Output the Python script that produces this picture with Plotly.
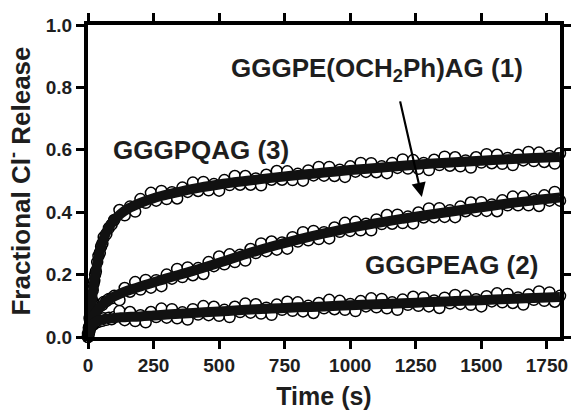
import plotly.graph_objects as go

# ---- data ----
t_data = [0, 3, 6, 9, 12, 15, 18, 21, 24, 27, 30, 35, 40, 45, 50, 55, 60, 70, 80, 90, 100,
          120, 140, 160, 180, 200, 220, 240, 260, 280, 300, 320, 340, 360, 380, 400, 420, 440,
          460, 480, 500, 520, 540, 560, 580, 600, 620, 640, 660, 680, 700, 720, 740, 760, 780,
          800, 820, 840, 860, 880, 900, 920, 940, 960, 980, 1000, 1020, 1040, 1060, 1080, 1100,
          1120, 1140, 1160, 1180, 1200, 1220, 1240, 1260, 1280, 1300, 1320, 1340, 1360, 1380,
          1400, 1420, 1440, 1460, 1480, 1500, 1520, 1540, 1560, 1580, 1600, 1620, 1640, 1660,
          1680, 1700, 1720, 1740, 1760, 1780, 1800]

# GGGPQAG (3)
y_pqag = [0.00, 0.03, 0.06, 0.08, 0.11, 0.12, 0.15, 0.17, 0.18, 0.20, 0.21, 0.24, 0.26, 0.27,
          0.29, 0.30, 0.32, 0.33, 0.35, 0.36, 0.375,
          0.407, 0.390, 0.418, 0.402, 0.442, 0.430, 0.462, 0.437, 0.468, 0.442, 0.464, 0.444,
          0.479, 0.465, 0.495, 0.468, 0.497, 0.470, 0.490, 0.469, 0.503, 0.487, 0.516, 0.488,
          0.516, 0.488, 0.508, 0.486, 0.520, 0.504, 0.532, 0.504, 0.531, 0.503, 0.523, 0.501,
          0.534, 0.518, 0.545, 0.517, 0.545, 0.516, 0.536, 0.513, 0.547, 0.530, 0.558, 0.529,
          0.557, 0.528, 0.547, 0.525, 0.558, 0.542, 0.569, 0.540, 0.567, 0.539, 0.558, 0.535,
          0.568, 0.551, 0.578, 0.549, 0.576, 0.547, 0.566, 0.543, 0.576, 0.559, 0.586, 0.557,
          0.584, 0.555, 0.574, 0.551, 0.584, 0.566, 0.593, 0.564, 0.591, 0.561, 0.580, 0.556,
          0.589]

# GGGPE(OCH2Ph)AG (1)
y_bn = [0.01, 0.02, 0.035, 0.045, 0.05, 0.06, 0.065, 0.07, 0.075, 0.08, 0.085, 0.09, 0.095,
        0.098, 0.105, 0.103, 0.112, 0.115, 0.122, 0.124, 0.132,
        0.118, 0.157, 0.145, 0.176, 0.152, 0.183, 0.158, 0.182, 0.163, 0.200, 0.187, 0.218,
        0.192, 0.223, 0.198, 0.221, 0.202, 0.240, 0.227, 0.258, 0.233, 0.265, 0.240, 0.264,
        0.245, 0.282, 0.269, 0.300, 0.275, 0.306, 0.280, 0.303, 0.283, 0.320, 0.306, 0.336,
        0.310, 0.340, 0.314, 0.336, 0.316, 0.351, 0.337, 0.366, 0.340, 0.369, 0.342, 0.363,
        0.342, 0.377, 0.362, 0.391, 0.363, 0.392, 0.365, 0.386, 0.364, 0.399, 0.383, 0.412,
        0.384, 0.413, 0.385, 0.406, 0.384, 0.418, 0.403, 0.431, 0.404, 0.432, 0.404, 0.425,
        0.403, 0.438, 0.422, 0.450, 0.422, 0.450, 0.422, 0.442, 0.420, 0.454, 0.437, 0.465,
        0.437]

# GGGPEAG (2)
y_peag = [0.00, 0.01, 0.02, 0.03, 0.035, 0.04, 0.045, 0.04, 0.05, 0.045, 0.052, 0.048, 0.055,
          0.05, 0.058, 0.052, 0.06, 0.055, 0.062, 0.057, 0.064,
          0.083, 0.054, 0.080, 0.051, 0.070, 0.047, 0.080, 0.064, 0.091, 0.062, 0.089, 0.060,
          0.079, 0.056, 0.089, 0.072, 0.099, 0.070, 0.097, 0.068, 0.087, 0.064, 0.097, 0.080,
          0.107, 0.078, 0.105, 0.075, 0.094, 0.071, 0.104, 0.087, 0.113, 0.084, 0.111, 0.082,
          0.100, 0.077, 0.109, 0.092, 0.119, 0.089, 0.116, 0.087, 0.106, 0.083, 0.115, 0.098,
          0.124, 0.095, 0.122, 0.092, 0.111, 0.087, 0.120, 0.103, 0.129, 0.100, 0.127, 0.098,
          0.117, 0.093, 0.126, 0.108, 0.135, 0.106, 0.132, 0.103, 0.121, 0.098, 0.131, 0.114,
          0.140, 0.111, 0.138, 0.109, 0.127, 0.104, 0.136, 0.119, 0.146, 0.116, 0.143, 0.113,
          0.132]

# fitted curves
t_fit = [0, 5, 10, 15, 20, 25, 30, 40, 50, 60, 75, 100, 125, 150, 200, 250, 300, 400, 500,
         600, 700, 800, 900, 1000, 1100, 1200, 1300, 1400, 1500, 1600, 1700, 1800]
fit_pqag = [0, 0.05, 0.085, 0.12, 0.155, 0.185, 0.21, 0.255, 0.29, 0.315, 0.345, 0.375, 0.395,
            0.41, 0.43, 0.445, 0.456, 0.475, 0.489, 0.5, 0.51, 0.519, 0.527, 0.535, 0.542,
            0.549, 0.555, 0.56, 0.565, 0.57, 0.574, 0.577]
fit_bn = [0.01, 0.025, 0.045, 0.058, 0.066, 0.073, 0.08, 0.09, 0.1, 0.108, 0.117, 0.13, 0.14,
          0.148, 0.162, 0.175, 0.188, 0.212, 0.238, 0.265, 0.29, 0.312, 0.332, 0.35, 0.365,
          0.379, 0.392, 0.404, 0.416, 0.428, 0.438, 0.447]
fit_peag = [0, 0.015, 0.028, 0.036, 0.042, 0.046, 0.049, 0.053, 0.055, 0.057, 0.059, 0.061,
            0.063, 0.064, 0.066, 0.069, 0.072, 0.077, 0.082, 0.087, 0.091, 0.095, 0.098, 0.102,
            0.105, 0.108, 0.112, 0.115, 0.118, 0.122, 0.125, 0.128]

x_ticks = [0, 250, 500, 750, 1000, 1250, 1500, 1750]
y_ticks = [0.0, 0.2, 0.4, 0.6, 0.8, 1.0]

FONT = "Arial, Liberation Sans, Helvetica, sans-serif"
TXT = "#1e1e1e"

fig = go.Figure()
for yd in (y_pqag, y_bn, y_peag):
    fig.add_trace(go.Scatter(
        x=t_data, y=yd, mode="markers",
        marker=dict(symbol="circle", size=11, color="white",
                    line=dict(color="black", width=1.5)),
        showlegend=False, cliponaxis=False))
for yf in (fit_pqag, fit_bn, fit_peag):
    fig.add_trace(go.Scatter(
        x=t_fit, y=yf, mode="lines", line=dict(color="#111", width=10, shape="spline"),
        showlegend=False))

fig.update_xaxes(
    range=[0, 1800], tickvals=x_ticks, ticks="outside", ticklen=8, tickwidth=3,
    tickcolor="black", showline=True, linewidth=4, linecolor="black", mirror="ticks",
    showgrid=False, zeroline=False, automargin=False,
    tickfont=dict(family=FONT, size=19, color=TXT, weight="bold"),
    title=dict(text="Time (s)", font=dict(family=FONT, size=25, color=TXT, weight="bold"),
               standoff=14))
fig.update_yaxes(
    range=[0, 1.0], tickvals=y_ticks, tickformat=".1f", ticks="outside", ticklen=8,
    tickwidth=3, tickcolor="black", showline=True, linewidth=4, linecolor="black",
    mirror="ticks", showgrid=False, zeroline=False, automargin=False,
    tickfont=dict(family=FONT, size=19, color=TXT, weight="bold"),
    title=dict(text="Fractional Cl<sup>-</sup> Release",
               font=dict(family=FONT, size=26, color=TXT, weight="bold"), standoff=9))

ann_font = dict(family=FONT, size=26, color=TXT, weight="bold")
fig.add_annotation(x=430, y=0.60, text="GGGPQAG (3)", showarrow=False, font=ann_font)
fig.add_annotation(x=1101, y=0.856, text="GGGPE(OCH<sub>2</sub>Ph)AG (1)", showarrow=False,
                   font=ann_font)
fig.add_annotation(x=1388, y=0.231, text="GGGPEAG (2)", showarrow=False, font=ann_font)
fig.add_annotation(x=1273, y=0.449, ax=1189, ay=0.76, axref="x", ayref="y", text="",
                   showarrow=True, arrowhead=2, arrowsize=1.3, arrowwidth=2.2,
                   arrowcolor="black")

fig.update_layout(
    width=571, height=412, margin=dict(l=88, r=11, t=25, b=75),
    plot_bgcolor="white", paper_bgcolor="white")

# remove the default 8px page margin and scrollbars so the figure fills the window
fig.write_html(
    "out.html",
    config={"displayModeBar": False},
    post_script="document.body.style.margin='0px';"
                "document.body.style.overflow='hidden';"
                "document.documentElement.style.overflow='hidden';")
